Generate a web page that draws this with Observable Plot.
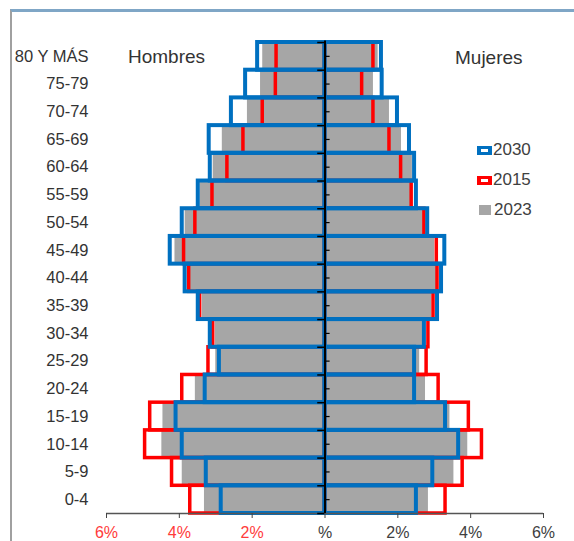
<!DOCTYPE html>
<html><head><meta charset="utf-8">
<script src="https://cdn.jsdelivr.net/npm/d3@7"></script>
<script src="https://cdn.jsdelivr.net/npm/@observablehq/plot@0.6"></script>
<style>
body{margin:0;background:#fff;font-family:"Liberation Sans",Arial,sans-serif;}
#wrap{position:relative;width:574px;height:541px;overflow:hidden;}
#frame{position:absolute;left:10px;top:9px;right:-5px;bottom:-5px;border-top:3px solid #7fa6c6;border-left:2px solid #a0a0a0;}
#chart{position:absolute;left:0;top:0;}
.lbl{position:absolute;font-size:19px;line-height:20px;color:#333;white-space:nowrap;}
.leg{position:absolute;left:477px;font-size:17px;line-height:20px;color:#404040;display:flex;align-items:center;}
.mk{display:inline-block;box-sizing:border-box;width:15px;height:9px;margin-right:1px;}
</style></head>
<body>
<div id="wrap">
  <div id="frame"></div>
  <div id="chart"></div>
  <div class="lbl" style="left:128px;top:47px">Hombres</div>
  <div class="lbl" style="left:455px;top:48px">Mujeres</div>
  <div id="legend"></div>
</div>
<script>
// Age groups, bottom (index 0) to top
const ages = ["0-4","5-9","10-14","15-19","20-24","25-29","30-34","35-39","40-44","45-49","50-54","55-59","60-64","65-69","70-74","75-79","80 Y MÁS"];
// Percentages (men)
const men2030 = [2.85,3.26,3.92,4.09,3.29,2.90,3.15,3.48,3.84,4.25,3.92,3.48,3.15,3.18,2.57,2.18,1.85];
const men2015 = [3.70,4.20,4.94,4.80,3.92,3.20,3.07,3.43,3.73,3.87,3.56,3.09,2.68,2.24,1.71,1.35,1.33];
const men2023 = [3.31,3.92,4.48,4.45,3.56,3.00,3.01,3.37,3.78,4.12,3.84,3.43,3.07,2.82,2.13,1.77,1.71];
// Percentages (women)
const women2030 = [2.51,2.96,3.67,3.31,2.46,2.46,2.73,3.09,3.20,3.29,2.82,2.51,2.46,2.32,1.99,1.57,1.55];
const women2015 = [3.31,3.78,4.31,3.95,3.12,2.79,2.84,2.98,3.09,3.07,2.73,2.38,2.09,1.77,1.33,1.02,1.33];
const women2023 = [2.84,3.54,3.92,3.43,2.76,2.60,2.68,2.93,3.07,3.01,2.70,2.38,2.40,2.10,1.77,1.33,1.46];
// Legend and axis ticks
const legendYears = ["2030","2015","2023"];
const leftTicks = [-6,-4,-2];
const rightTicks = [0,2,4,6];

const colors = {"2030":"#0070c0","2015":"#ff0000","2023":"#a6a6a6"};

const rows = ages.map((a,i)=>({i, a,
  m30: men2030[i], m15: men2015[i], m23: men2023[i],
  w30: women2030[i], w15: women2015[i], w23: women2023[i]}));

const bar = (key, side, opts) => Plot.rect(rows, {
  x1: side === "m" ? d => -d[key] : 0,
  x2: side === "m" ? 0 : d => d[key],
  y1: d => d.i - 0.5, y2: d => d.i + 0.5, ...opts});

const bounds = d3.range(-0.5, 17, 1);
const centers = d3.range(0, 17);
const fmt = d => d === 0 ? "%" : Math.abs(d) + "%";

const chart = Plot.plot({
  width: 574, height: 541,
  marginLeft: 106, marginRight: 31, marginTop: 42, marginBottom: 28,
  x: {domain: [-6, 6]},
  y: {domain: [-0.5, 16.5]},
  style: {fontFamily: "Liberation Sans, Arial, sans-serif", fontSize: "16px", background: "transparent"},
  marks: [
    bar("m23","m",{fill: colors["2023"]}),
    bar("w23","w",{fill: colors["2023"]}),
    bar("m15","m",{fill: "none", stroke: colors["2015"], strokeWidth: 3.5}),
    bar("w15","w",{fill: "none", stroke: colors["2015"], strokeWidth: 3.5}),
    bar("m30","m",{fill: "none", stroke: colors["2030"], strokeWidth: 4}),
    bar("w30","w",{fill: "none", stroke: colors["2030"], strokeWidth: 4}),
    Plot.ruleY([-0.5], {x1: -6, x2: 6, stroke: "#555", strokeWidth: 1.5}),
    Plot.ruleX([0], {y1: -0.5, y2: 16.55, stroke: "#000", strokeWidth: 2}),
    Plot.ruleY(bounds, {x1: -0.2, x2: 0, stroke: "#000", strokeWidth: 1.5}),
    Plot.ruleY(centers, {x1: 0, x2: 0.14, stroke: "#000", strokeWidth: 1.2}),
    Plot.axisX(leftTicks, {anchor: "bottom", tickSize: 5, tickPadding: 8, tickFormat: fmt, fill: "#ff3b3b", stroke: "#444", fontSize: 16}),
    Plot.axisX(rightTicks, {anchor: "bottom", tickSize: 5, tickPadding: 8, tickFormat: fmt, fill: "#404040", stroke: "#444", fontSize: 16}),
    Plot.axisY(centers, {anchor: "left", tickSize: 0, tickPadding: 18, tickFormat: i => ages[i], fill: "#333", fontSize: 16.5})
  ]
});
document.getElementById("chart").append(chart);

const leg = document.getElementById("legend");
legendYears.forEach((y, k) => {
  const el = document.createElement("div");
  el.className = "leg";
  el.style.top = (140 + k * 30) + "px";
  const mk = document.createElement("span");
  mk.className = "mk";
  if (y === "2023") {
    mk.style.background = colors[y]; mk.style.width = "12px"; mk.style.height = "10px";
    mk.style.marginLeft = "2px"; mk.style.marginRight = "3px";
  } else {
    mk.style.border = "3px solid " + colors[y]; mk.style.borderLeftWidth = "4px"; mk.style.borderRightWidth = "4px";
    mk.style.background = "#fff";
  }
  el.append(mk, document.createTextNode(y));
  leg.append(el);
});
</script>
</body></html>
